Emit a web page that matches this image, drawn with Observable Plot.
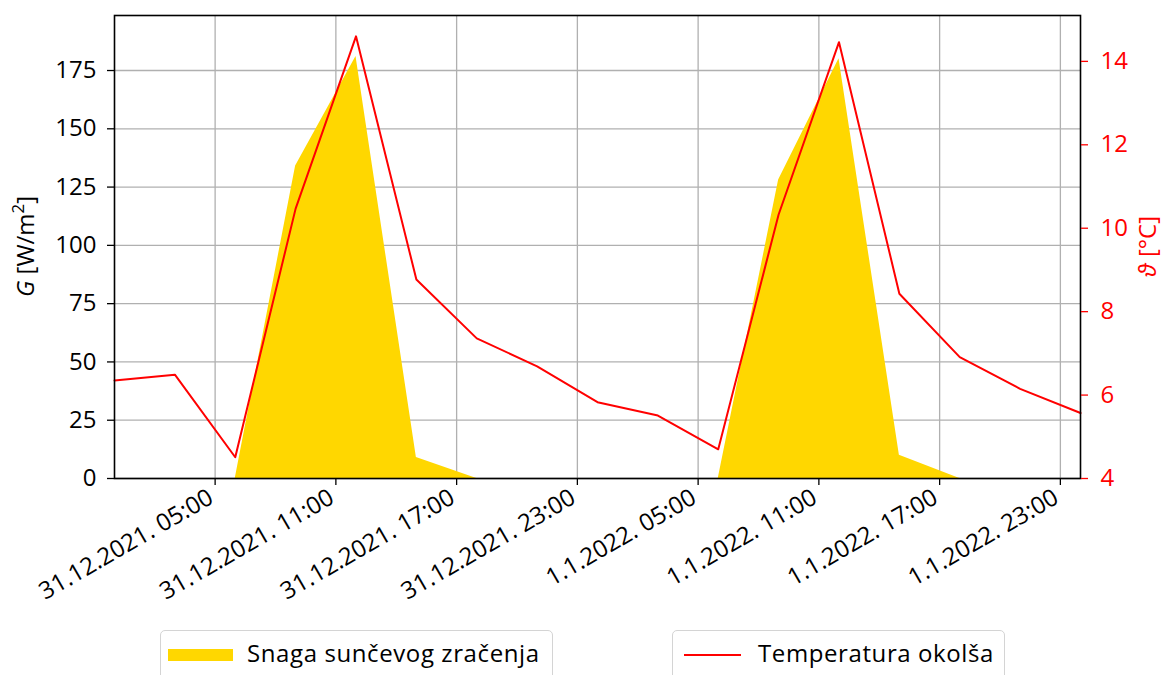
<!DOCTYPE html>
<html><head><meta charset="utf-8">
<script src="https://cdn.jsdelivr.net/npm/d3@7"></script>
<script src="https://cdn.jsdelivr.net/npm/@observablehq/plot@0.6"></script>
<style>
body{margin:0;background:#fff;font-family:"Open Sans",sans-serif;}
#wrap{position:relative;width:1164px;height:675px;overflow:hidden;}
.lg{position:absolute;top:630px;height:50px;border:1.5px solid #d4d4d4;border-radius:5px;box-sizing:border-box;background:#fff;}
.lg span{position:absolute;top:5px;font-size:24px;letter-spacing:0.6px;color:#000;white-space:nowrap;}
.sw{position:absolute;}
</style></head><body><div id="wrap"></div>
<script>
// data: 3-hourly samples
const times = ["2021-12-31T00:00Z","2021-12-31T03:00Z","2021-12-31T06:00Z","2021-12-31T09:00Z","2021-12-31T12:00Z","2021-12-31T15:00Z","2021-12-31T18:00Z","2021-12-31T21:00Z","2022-01-01T00:00Z","2022-01-01T03:00Z","2022-01-01T06:00Z","2022-01-01T09:00Z","2022-01-01T12:00Z","2022-01-01T15:00Z","2022-01-01T18:00Z","2022-01-01T21:00Z","2022-01-02T00:00Z"];
const irradiance = [0,0,0,134,181,9,0,0,0,0,0,128,180,10,0,0,0];
const temperature = [6.35,6.49,4.51,10.47,14.6,8.77,7.36,6.69,5.83,5.51,4.7,10.33,14.46,8.43,6.91,6.15,5.57];
const xTickTimes = ["2021-12-31T05:00Z","2021-12-31T11:00Z","2021-12-31T17:00Z","2021-12-31T23:00Z","2022-01-01T05:00Z","2022-01-01T11:00Z","2022-01-01T17:00Z","2022-01-01T23:00Z"];
const xTickLabels = ["31.12.2021. 05:00","31.12.2021. 11:00","31.12.2021. 17:00","31.12.2021. 23:00","1.1.2022. 05:00","1.1.2022. 11:00","1.1.2022. 17:00","1.1.2022. 23:00"];
const gTicks = [0,25,50,75,100,125,150,175];
const tTicks = [4,6,8,10,12,14];
const seriesNames = ["Snaga sunčevog zračenja","Temperatura okolša"];

const gDomain = [0, 198.6];
const tDomain = [4, 15.1];
const t2g = t => (t - tDomain[0]) / (tDomain[1] - tDomain[0]) * (gDomain[1] - gDomain[0]) + gDomain[0];
const g2t = g => (g - gDomain[0]) / (gDomain[1] - gDomain[0]) * (tDomain[1] - tDomain[0]) + tDomain[0];

const data = times.map((t, i) => ({time: new Date(t), G: irradiance[i], T: temperature[i]}));
const xt = xTickTimes.map(s => new Date(s));
const labelMap = new Map(xt.map((d, i) => [d.getTime(), xTickLabels[i]]));

const FS = 24;
const grid = "#b0b0b0";
const chart = Plot.plot({
  width: 1164, height: 625,
  marginLeft: 114, marginRight: 84, marginTop: 15, marginBottom: 147,
  style: {fontFamily: '"Open Sans", sans-serif', fontSize: FS + "px", background: "#fff", overflow: "visible"},
  x: {type: "utc", domain: [new Date(times[0]), new Date(times[times.length - 1])]},
  y: {domain: gDomain},
  marks: [
    Plot.gridX(xt, {stroke: grid, strokeOpacity: 1, strokeWidth: 1.3}),
    Plot.gridY(gTicks, {stroke: grid, strokeOpacity: 1, strokeWidth: 1.3}),
    Plot.areaY(data, {x: "time", y: "G", fill: "#FFD700", curve: "linear"}),
    Plot.lineY(data, {x: "time", y: d => t2g(d.T), stroke: "#ff0000", strokeWidth: 2}),
    Plot.frame({stroke: "#000", strokeWidth: 1.6}),
    Plot.axisX(xt, {anchor: "bottom", tickSize: 7, tickFormat: () => "", label: null, stroke: "#000", strokeWidth: 1.3}),
    Plot.axisX(xt, {anchor: "bottom", tickSize: 0, tickPadding: 17, dx: -4, tickRotate: -30, textAnchor: "end", tickFormat: d => labelMap.get(d.getTime()), label: null, fontSize: FS}),
    Plot.axisY(gTicks, {anchor: "left", tickSize: 7, tickPadding: 11, label: null, fontSize: FS, strokeWidth: 1.3}),
    Plot.axisY(tTicks.map(t2g), {anchor: "right", tickSize: 7, tickPadding: 13, label: null, fontSize: FS, color: "#ff0000", strokeWidth: 1.3, tickFormat: g => String(Math.round(g2t(g)))})
  ]
});
const wrap = document.getElementById("wrap");
wrap.appendChild(chart);

// axis titles
const svg = d3.select(chart);
const midY = (15 + 478) / 2;
const lt = svg.append("text").attr("transform", `translate(34,${midY}) rotate(-90)`)
  .attr("text-anchor", "middle").attr("font-size", FS).attr("fill", "#000");
lt.append("tspan").attr("font-style", "italic").text("G");
lt.append("tspan").text(" [W/m");
lt.append("tspan").attr("font-size", FS * 0.7).attr("dy", -10).text("2");
lt.append("tspan").attr("dy", 10).text("]");
const rt = svg.append("text").attr("transform", `translate(1156,${midY}) rotate(-90)`)
  .attr("text-anchor", "middle").attr("font-size", FS).attr("fill", "#ff0000");
rt.append("tspan").attr("font-style", "italic").text("ϑ");
rt.append("tspan").text(" [°C]");

// legend
function legendBox(left, width, swatchHTML, text, textLeft) {
  const b = document.createElement("div");
  b.className = "lg"; b.style.left = left + "px"; b.style.width = width + "px";
  b.innerHTML = swatchHTML + `<span style="left:${textLeft}px">${text}</span>`;
  wrap.appendChild(b);
}
legendBox(160, 393, '<div class="sw" style="left:7px;top:18px;width:65px;height:12px;background:#FFD700"></div>', seriesNames[0], 86);
legendBox(672, 333, '<div class="sw" style="left:11px;top:23px;width:57px;height:2px;background:#ff0000"></div>', seriesNames[1], 85);
</script></body></html>
